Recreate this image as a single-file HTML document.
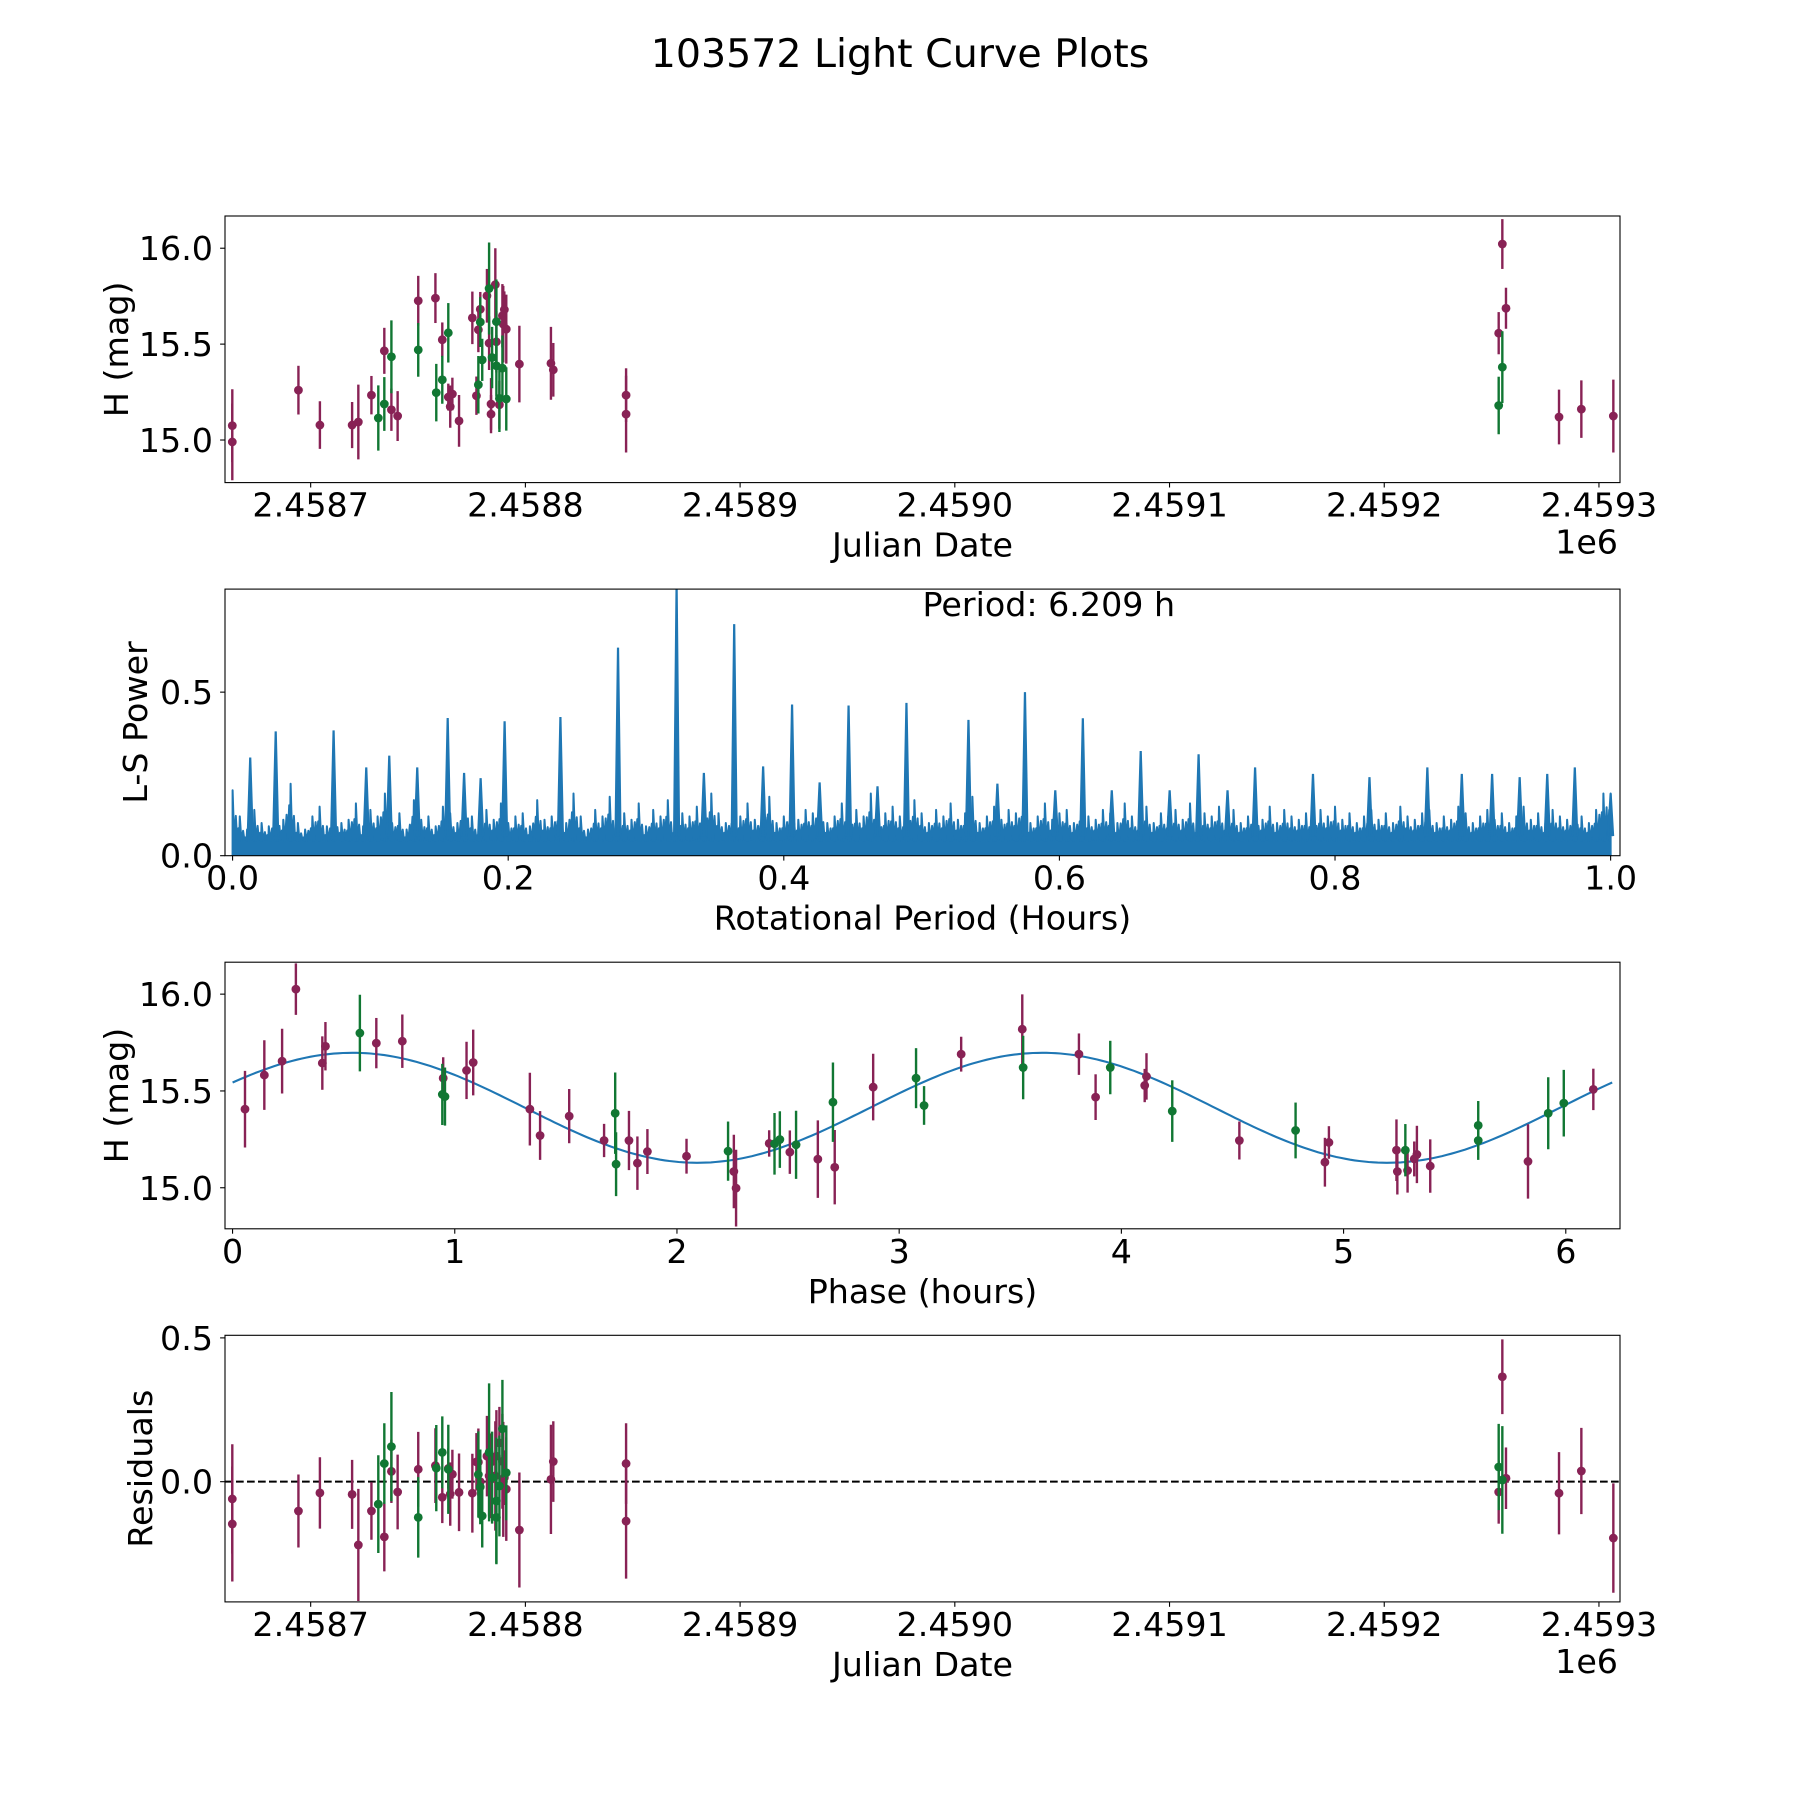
<!DOCTYPE html>
<html><head><meta charset="utf-8"><title>103572 Light Curve Plots</title>
<style>
html,body{margin:0;padding:0;background:#fff;}
svg{display:block;font-family:"DejaVu Sans","Liberation Sans",sans-serif;}
</style></head>
<body>
<svg id="fig" xmlns="http://www.w3.org/2000/svg" width="1800" height="1800" viewBox="0 0 1800 1800">
<rect x="0" y="0" width="1800" height="1800" fill="#fff"/>
<text x="900" y="67" font-size="39.5" text-anchor="middle">103572 Light Curve Plots</text>
</svg>
<script>
// ---- Light curve data (panel 1 & 4) ----
const jd = [2458663.5,2458663.5,2458694.3,2458704.3,2458719.3,2458722.2,2458728.3,2458731.5,2458734.3,2458734.3,2458737.6,2458737.6,2458740.5,2458750.1,2458750.1,2458758.1,2458758.5,2458761.3,2458761.3,2458764.1,2458764.1,2458766.0,2458765.0,2458769.1,2458775.3,2458777.2,2458778.1,2458778.1,2458779.0,2458779.0,2458779.9,2458782.1,2458783.1,2458783.1,2458784.0,2458784.0,2458784.5,2458786.0,2458786.5,2458786.5,2458786.5,2458787.9,2458787.9,2458789.3,2458789.7,2458789.3,2458790.2,2458791.1,2458791.1,2458797.2,2458811.9,2458813.0,2458846.9,2458846.9,2459253.3,2459253.3,2459255.0,2459255.0,2459256.7,2459281.4,2459291.8,2459306.7];
const mag = [15.075,14.99,15.26,15.078,15.078,15.094,15.234,15.115,15.188,15.465,15.434,15.158,15.125,15.726,15.47,15.74,15.247,15.523,15.314,15.559,15.224,15.24,15.174,15.10,15.637,15.231,15.288,15.575,15.682,15.615,15.418,15.752,15.79,15.505,15.188,15.135,15.43,15.81,15.617,15.512,15.387,15.184,15.217,15.648,15.604,15.375,15.68,15.578,15.214,15.396,15.40,15.366,15.234,15.135,15.557,15.18,16.022,15.38,15.687,15.12,15.161,15.125];
const magErr = [0.19,0.2,0.127,0.124,0.12,0.195,0.1,0.17,0.14,0.12,0.19,0.11,0.13,0.13,0.14,0.13,0.15,0.09,0.125,0.155,0.07,0.085,0.11,0.135,0.137,0.1,0.15,0.117,0.09,0.13,0.11,0.14,0.24,0.14,0.135,0.1,0.16,0.19,0.22,0.16,0.16,0.125,0.175,0.165,0.2,0.17,0.095,0.18,0.165,0.2,0.19,0.14,0.14,0.2,0.11,0.15,0.13,0.187,0.107,0.143,0.15,0.19];
const band = ['m','m','m','m','m','m','m','g','g','m','g','m','m','m','g','m','g','m','g','g','m','m','m','m','m','m','g','m','m','g','g','m','g','m','m','m','g','m','g','m','g','m','g','m','m','g','m','m','g','m','m','m','m','m','m','g','m','g','m','m','m','m'];
const residual = [-0.06,-0.147,-0.102,-0.039,-0.044,-0.22,-0.102,-0.078,0.063,-0.192,0.122,0.036,-0.036,0.043,-0.124,0.056,0.047,-0.054,0.102,0.043,0.046,0.026,-0.043,-0.037,-0.04,0.069,0.025,0.068,0,-0.018,-0.119,0.089,0.102,0.02,0.008,0.068,0.014,0.02,-0.067,0.089,-0.124,0.135,-0.015,0.071,0.008,0.184,0.014,-0.026,0.031,-0.168,0.008,0.07,0.063,-0.137,-0.036,0.051,0.365,0.006,0.012,-0.04,0.037,-0.196];

// ---- Phase-folded data (panel 3) ----
const phase = [0.056,0.143,0.223,0.285,0.404,0.418,0.573,0.647,0.764,0.948,0.944,0.956,1.053,1.083,1.338,1.384,1.515,1.672,1.722,1.726,1.784,1.822,1.867,2.043,2.23,2.256,2.266,2.415,2.439,2.463,2.508,2.536,2.634,2.702,2.71,2.883,3.076,3.112,3.279,3.554,3.558,3.809,3.884,3.95,4.105,4.113,4.229,4.531,4.784,4.916,4.934,5.238,5.242,5.278,5.288,5.318,5.33,5.39,5.606,5.606,5.83,5.921,5.991,6.124];
const phaseMag = [15.406,15.582,15.654,16.026,15.644,15.731,15.799,15.747,15.757,15.566,15.482,15.471,15.606,15.647,15.406,15.27,15.37,15.244,15.385,15.122,15.244,15.127,15.187,15.163,15.189,15.084,14.998,15.229,15.227,15.249,15.184,15.222,15.148,15.442,15.106,15.52,15.566,15.425,15.69,15.819,15.621,15.69,15.468,15.621,15.528,15.575,15.396,15.244,15.296,15.132,15.234,15.194,15.084,15.194,15.089,15.149,15.172,15.112,15.322,15.244,15.136,15.385,15.437,15.508];
const phaseErr = [0.198,0.18,0.167,0.133,0.138,0.125,0.198,0.13,0.138,0.108,0.158,0.15,0.148,0.17,0.188,0.126,0.14,0.086,0.21,0.165,0.153,0.138,0.116,0.09,0.153,0.19,0.198,0.068,0.159,0.146,0.112,0.176,0.2,0.205,0.192,0.172,0.155,0.1,0.09,0.18,0.164,0.107,0.118,0.138,0.086,0.12,0.159,0.098,0.144,0.126,0.084,0.159,0.119,0.135,0.114,0.09,0.148,0.138,0.126,0.1,0.192,0.186,0.172,0.107];
const phaseBand = ['m','m','m','m','m','m','g','m','m','m','g','g','m','m','m','m','m','m','g','g','m','m','m','m','g','m','m','m','g','g','m','g','m','g','m','m','g','g','m','m','g','m','m','g','m','m','g','m','g','m','m','m','m','g','m','m','m','m','g','g','m','g','g','m'];
// fit: mean, amplitude, phase of max (h), half period (h)
const fitMean = 15.413, fitAmp = 0.284, fitPeak = 0.54, fitPeriod = 3.1045;

// ---- Periodogram (panel 2) ----
const periodLabel = "Period: 6.209 h";
const noisePower = [0.20,0.12,0.08,0.14,0.10,0.09,0.13,0.11,0.22,0.10,0.08,0.12,0.15,0.09,0.13,0.10,0.11,0.16,0.09,0.14,
0.12,0.19,0.10,0.13,0.08,0.17,0.11,0.12,0.09,0.15,0.13,0.10,0.18,0.12,0.09,0.14,0.11,0.16,0.10,0.12,
0.13,0.09,0.17,0.11,0.12,0.15,0.10,0.19,0.12,0.08,0.14,0.12,0.18,0.10,0.13,0.11,0.16,0.09,0.14,0.12,
0.17,0.10,0.13,0.12,0.15,0.11,0.19,0.13,0.10,0.14,0.12,0.16,0.11,0.13,0.18,0.10,0.12,0.15,0.11,0.14,
0.13,0.17,0.10,0.12,0.16,0.11,0.14,0.12,0.19,0.10,0.13,0.15,0.12,0.11,0.17,0.13,0.10,0.14,0.12,0.16,
0.11,0.13,0.18,0.10,0.12,0.15,0.11,0.14,0.13,0.17,0.10,0.12,0.16,0.11,0.13,0.14,0.10,0.15,0.12,0.11,
0.14,0.13,0.10,0.16,0.12,0.11,0.15,0.10,0.13,0.12,0.14,0.11,0.16,0.10,0.13,0.12,0.15,0.11,0.14,0.10,
0.12,0.13,0.11,0.15,0.10,0.14,0.12,0.11,0.13,0.10,0.14,0.12,0.15,0.11,0.13,0.10,0.12,0.14,0.11,0.13,
0.10,0.15,0.12,0.11,0.13,0.14,0.10,0.12,0.11,0.15,0.13,0.10,0.12,0.14,0.11,0.13,0.10,0.12,0.15,0.11,
0.13,0.10,0.14,0.12,0.11,0.13,0.12,0.10,0.14,0.19];
const peakPeriod = [0.0128,0.0313,0.0733,0.097,0.1137,0.134,0.1561,0.168,0.180,0.1974,0.2379,0.2797,0.3222,0.364,0.342,0.385,0.406,0.426,0.447,0.468,0.489,0.534,0.555,0.575,0.597,0.617,0.638,0.659,0.680,0.701,0.722,0.742,0.784,0.825,0.867,0.892,0.914,0.934,0.954,0.974,1.0];
const peakPower = [0.30,0.38,0.383,0.27,0.306,0.27,0.421,0.253,0.237,0.411,0.424,0.636,0.83,0.708,0.253,0.273,0.462,0.224,0.459,0.212,0.467,0.415,0.22,0.50,0.2,0.42,0.2,0.32,0.2,0.31,0.2,0.27,0.25,0.24,0.27,0.25,0.25,0.24,0.25,0.27,0.19];

const xTicksJD = [2458700,2458800,2458900,2459000,2459100,2459200,2459300];
const xTickLabelsJD = ["2.4587","2.4588","2.4589","2.4590","2.4591","2.4592","2.4593"];
const yTicksMag = [15.0,15.5,16.0];
const yTickLabelsMag = ["15.0","15.5","16.0"];
const xTicksPeriod = [0,0.2,0.4,0.6,0.8,1.0];
const xTickLabelsPeriod = ["0.0","0.2","0.4","0.6","0.8","1.0"];
const yTicksPower = [0,0.5];
const yTickLabelsPower = ["0.0","0.5"];
const xTicksPhase = [0,1,2,3,4,5,6];
const xTickLabelsPhase = ["0","1","2","3","4","5","6"];
const yTicksRes = [0,0.5];
const yTickLabelsRes = ["0.0","0.5"];

const NS = "http://www.w3.org/2000/svg";
const svg = document.getElementById('fig');
const COL = {m:'#882255', g:'#117733'};
const FS = 33.3;
const PX0 = 225, PW = 1395, PH = 266.6, STEP = 373.1, PY0 = 216;

function el(tag, attrs, parent){
  const e = document.createElementNS(NS, tag);
  for (const k in attrs) e.setAttribute(k, attrs[k]);
  (parent||svg).appendChild(e);
  return e;
}

function makePanel(i, name, xmin, xmax, ymin, ymax){
  const y0 = PY0 + i*STEP;
  const sx = v => PX0 + (v - xmin)/(xmax - xmin)*PW;
  const sy = v => y0 + PH - (v - ymin)/(ymax - ymin)*PH;
  const g = el('g', {});
  
  
  const cp = el('clipPath', {id:'clip'+i}, g);
  el('rect', {x:PX0, y:y0, width:PW, height:PH}, cp);
  const plot = el('g', {'clip-path':'url(#clip'+i+')'}, g);
  
  
  return {g, plot, sx, sy, y0};
}

function axes(P, xt, xtl, yt, ytl, xlabel, ylabel, ylabelX, offsetText){
  const g = P.g, y0 = P.y0, yb = y0 + PH;
  const frame = el('rect', {x:PX0, y:y0, width:PW, height:PH, fill:'none', stroke:'#000', 'stroke-width':1.1}, g);
  
  
  xt.forEach((v, k) => {
    const x = P.sx(v);
    el('line', {x1:x, y1:yb, x2:x, y2:yb+4.9, stroke:'#000', 'stroke-width':1.1}, g);
    const t = el('text', {x:x, y:yb+34, 'font-size':FS, 'text-anchor':'middle'}, g);
    
    
    t.textContent = xtl[k];
  });
  yt.forEach((v, k) => {
    const y = P.sy(v);
    el('line', {x1:PX0-4.9, y1:y, x2:PX0, y2:y, stroke:'#000', 'stroke-width':1.1}, g);
    const t = el('text', {x:PX0-12, y:y+12, 'font-size':FS, 'text-anchor':'end'}, g);
    
    
    t.textContent = ytl[k];
  });
  const xl = el('text', {x:PX0+PW/2, y:yb+74, 'font-size':FS, 'text-anchor':'middle'}, g);
  
  
  xl.textContent = xlabel;
  const cy = y0 + PH/2;
  const yl = el('text', {x:ylabelX, y:cy, 'font-size':FS, 'text-anchor':'middle', transform:'rotate(-90 '+ylabelX+' '+cy+')'}, g);
  
  
  yl.textContent = ylabel;
  if (offsetText){
    const o = el('text', {x:PX0+PW-2, y:yb+71, 'font-size':FS, 'text-anchor':'end'}, g);
    
    
    o.textContent = offsetText;
  }
}

function errPoints(P, xs, ys, es, bands){
  ['m','g'].forEach(b => {
    xs.forEach((xv, k) => {
      if (bands[k] !== b) return;
      const x = P.sx(xv);
      const ln = el('line', {x1:x, y1:P.sy(ys[k]-es[k]), x2:x, y2:P.sy(ys[k]+es[k]), stroke:COL[b], 'stroke-width':2.4}, P.plot);
      
      
      const c = el('circle', {cx:x, cy:P.sy(ys[k]), r:4.4, fill:COL[b]}, P.plot);
      
      
    });
  });
}

// Panel 1: light curve
const P1 = makePanel(0, 'light-curve-panel', 2458660.1, 2459309.8, 14.778, 16.168);
errPoints(P1, jd, mag, magErr, band);
axes(P1, xTicksJD, xTickLabelsJD, yTicksMag, yTickLabelsMag, 'Julian Date', 'H (mag)', 128, '1e6');

// Panel 2: periodogram
const P2 = makePanel(1, 'periodogram-panel', -0.0055, 1.0068, 0, 0.815);
(function(){
  const n = noisePower.length;
  let d = 'M' + P2.sx(0) + ' ' + P2.sy(0);
  noisePower.forEach((v, k) => {
    const nxt = noisePower[(k+1)%n];
    d += ' L' + P2.sx(k/n).toFixed(1) + ' ' + P2.sy(v).toFixed(1);
    d += ' L' + P2.sx((k+0.22)/n).toFixed(1) + ' ' + P2.sy(0.045).toFixed(1);
    d += ' L' + P2.sx((k+0.45)/n).toFixed(1) + ' ' + P2.sy((v+nxt)*0.38).toFixed(1);
    d += ' L' + P2.sx((k+0.62)/n).toFixed(1) + ' ' + P2.sy(0.05).toFixed(1);
    d += ' L' + P2.sx((k+0.8)/n).toFixed(1) + ' ' + P2.sy(nxt*0.7).toFixed(1);
    d += ' L' + P2.sx((k+0.92)/n).toFixed(1) + ' ' + P2.sy(0.045).toFixed(1);
  });
  d += ' L' + P2.sx(1) + ' ' + P2.sy(noisePower[n-1]) + ' L' + P2.sx(1) + ' ' + P2.sy(0) + ' Z';
  const pa = el('path', {d:d, fill:'#1f77b4', stroke:'#1f77b4', 'stroke-width':2, 'stroke-linejoin':'round'}, P2.plot);
  
  
  peakPeriod.forEach((p, k) => {
    const h = peakPower[k];
    const pk = el('path', {d:'M'+P2.sx(p-0.0018)+' '+P2.sy(0.06)+' L'+P2.sx(p)+' '+P2.sy(h)+' L'+P2.sx(p+0.0018)+' '+P2.sy(0.06), fill:'#1f77b4', stroke:'#1f77b4', 'stroke-width':2.2}, P2.plot);
    
    
  });
})();
axes(P2, xTicksPeriod, xTickLabelsPeriod, yTicksPower, yTickLabelsPower, 'Rotational Period (Hours)', 'L-S Power', 147, null);
{
  const t = el('text', {x:PX0+PW/2, y:P2.y0+27, 'font-size':FS, 'text-anchor':'start'}, P2.g);
  
  
  t.textContent = periodLabel;
}

// Panel 3: phase-folded
const P3 = makePanel(2, 'phase-folded-panel', -0.034, 6.244, 14.788, 16.165);
(function(){
  let d = '';
  const N = 300;
  for (let k = 0; k <= N; k++){
    const ph = k/N*6.209;
    const v = fitMean + fitAmp*Math.cos(2*Math.PI*(ph - fitPeak)/fitPeriod);
    d += (k ? ' L' : 'M') + P3.sx(ph).toFixed(1) + ' ' + P3.sy(v).toFixed(1);
  }
  const c = el('path', {d:d, fill:'none', stroke:'#1f77b4', 'stroke-width':2.1}, P3.plot);
  
  
})();
errPoints(P3, phase, phaseMag, phaseErr, phaseBand);
axes(P3, xTicksPhase, xTickLabelsPhase, yTicksMag, yTickLabelsMag, 'Phase (hours)', 'H (mag)', 128, null);

// Panel 4: residuals
const P4 = makePanel(3, 'residuals-panel', 2458660.1, 2459309.8, -0.418, 0.509);
{
  const z = el('line', {x1:PX0, y1:P4.sy(0), x2:PX0+PW, y2:P4.sy(0), stroke:'#000', 'stroke-width':2, 'stroke-dasharray':'7.7 3.3'}, P4.plot);
  
  
}
errPoints(P4, jd, residual, magErr, band);
axes(P4, xTicksJD, xTickLabelsJD, yTicksRes, yTickLabelsRes, 'Julian Date', 'Residuals', 152, '1e6');
</script>
</body></html>
